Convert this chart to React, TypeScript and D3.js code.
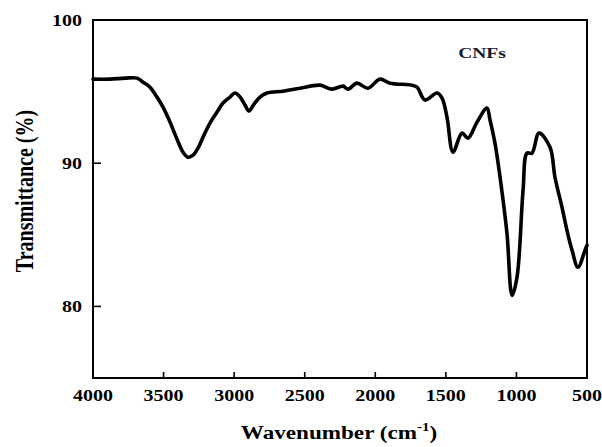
import React from "react";
import * as d3 from "d3";

const wavenumbers = [4000, 3880, 3773, 3688, 3646, 3596, 3547, 3504, 3454, 3405, 3362, 3327, 3291, 3256, 3214, 3171, 3121, 3079, 3029, 2994, 2958, 2923, 2895, 2859, 2817, 2767, 2654, 2533, 2392, 2307, 2229, 2193, 2130, 2052, 1967, 1896, 1740, 1704, 1648, 1563, 1527, 1492, 1449, 1386, 1343, 1279, 1209, 1187, 1152, 1116, 1067, 1031, 996, 953, 925, 890, 840, 762, 727, 677, 642, 606, 564, 514, 500];
const transmittance = [95.87, 95.87, 95.94, 95.94, 95.66, 95.31, 94.62, 93.92, 92.87, 91.68, 90.77, 90.42, 90.56, 91.05, 91.96, 92.8, 93.57, 94.2, 94.62, 94.9, 94.62, 94.06, 93.64, 94.13, 94.62, 94.9, 95.03, 95.24, 95.45, 95.17, 95.38, 95.17, 95.59, 95.24, 95.87, 95.59, 95.45, 95.31, 94.41, 94.9, 94.55, 93.22, 90.77, 92.1, 91.75, 92.87, 93.85, 93.01, 91.4, 89.02, 85.1, 80.77, 82.03, 88.11, 90.7, 90.7, 92.1, 91.12, 89.02, 86.92, 85.31, 83.92, 82.73, 83.92, 84.27];
const xTicks = [4000, 3500, 3000, 2500, 2000, 1500, 1000, 500];
const yTicks = [80, 90, 100];
const seriesLabel = "CNFs";

const W = 602, H = 447;
const left = 93, right = 587, top = 20, bottom = 378;
const SX = 1.25;
const font = "'Liberation Serif', 'Times New Roman', serif";

export default function App() {
  const x = d3.scaleLinear().domain([4000, 500]).range([left, right]);
  const y = d3.scaleLinear().domain([75, 100]).range([bottom, top]);
  const pts = wavenumbers.map((w, i) => [w, transmittance[i]] as [number, number]);
  const line = d3.line<[number, number]>().x(d => x(d[0])).y(d => y(d[1])).curve(d3.curveCatmullRom.alpha(0.5));
  return (
    <svg width={W} height={H} style={{ position: "absolute", left: 0, top: 0, background: "#fff" }} fontFamily={font} fontWeight="bold">
      <rect x={left} y={top} width={right - left} height={bottom - top} fill="none" stroke="#000" strokeWidth={2} />
      {xTicks.map(t => (
        <g key={"x" + t}>
          <line x1={x(t)} x2={x(t)} y1={bottom} y2={bottom - 6} stroke="#000" strokeWidth={1.6} />
          <g transform={`translate(${x(t)},401) scale(${SX},1)`}>
            <text textAnchor="middle" fontSize={16}>{t}</text>
          </g>
        </g>
      ))}
      {yTicks.map(t => (
        <g key={"y" + t}>
          <line x1={left} x2={left + 8} y1={y(t)} y2={y(t)} stroke="#000" strokeWidth={1.6} />
          <g transform={`translate(82,${y(t) + 6}) scale(${SX},1)`}>
            <text textAnchor="end" fontSize={16}>{t}</text>
          </g>
        </g>
      ))}
      <path d={line(pts) || ""} fill="none" stroke="#000" strokeWidth={3.6} strokeLinejoin="round" strokeLinecap="round" />
      <g transform={`translate(482,58) scale(1.3,1)`}>
        <text textAnchor="middle" fontSize={15} fill="#1a1a2e">{seriesLabel}</text>
      </g>
      <g transform={`translate(33,191) scale(${SX},1) rotate(-90)`}>
        <text textAnchor="middle" fontSize={20}>Transmittance (%)</text>
      </g>
      <g transform={`translate(339,439) scale(${SX},1)`}>
        <text textAnchor="middle" fontSize={18.5}>
          Wavenumber (cm<tspan fontSize={12} dy={-8}>-1</tspan><tspan dy={8}>)</tspan>
        </text>
      </g>
    </svg>
  );
}
